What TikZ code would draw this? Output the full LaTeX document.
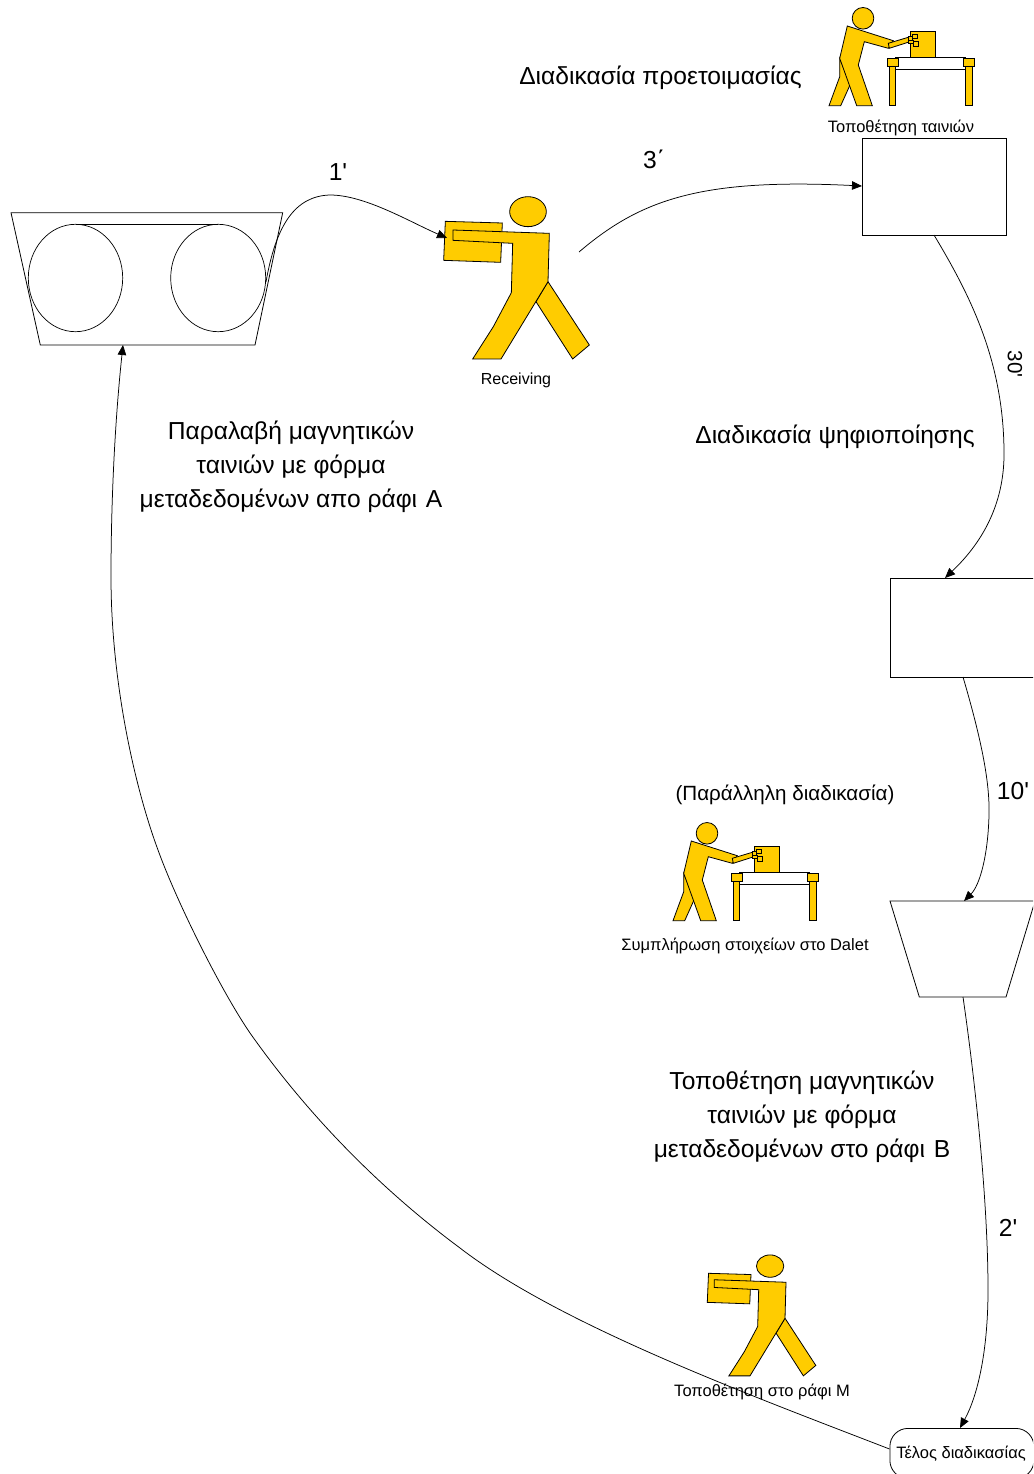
\documentclass[tikz,border=0pt]{standalone}
\usepackage{fontspec}
\newfontfamily\lf{Liberation Sans}
\usetikzlibrary{arrows.meta}
\definecolor{fig}{HTML}{FFCC00}
\tikzset{
  ln/.style={draw=black,line width=0.8pt},
  part/.style={draw=black,line width=0.8pt,fill=fig},
  flow/.style={draw=black,line width=0.75pt,-{Triangle[length=10pt,width=8.5pt]}},
  bigtxt/.style={font=\lf\fontsize{24.6}{34}\selectfont,inner sep=0pt,align=center},
  smalltxt/.style={font=\lf\fontsize{16.5}{18}\selectfont,inner sep=0pt},
  midtxt/.style={font=\lf\fontsize{20.6}{24}\selectfont,inner sep=0pt},
  boxnode/.style={draw=black,line width=0.8pt,fill=white,inner sep=0pt,anchor=north west},
  carrier/.pic={
    \begin{scope}[scale=1/3]
    \path[part] (46,124)--(217,129)--(212,247)--(41,241)--cycle;
    \path[part] (354,305)--(478,495)--(428,537)--(318,365)--cycle;
    \path[part] (69,150)--(358,160)--(354,305)--(213,537)--(128,537)--(190,440)--(244,338)--(248,190)--(69,181)--cycle;
    \path[part] (294,95) ellipse [x radius=55,y radius=45];
    \end{scope}
  },
  worker/.pic={
    \path[part] (863,18.3) circle [radius=10.8];
    \path[part] (839.7,58.3)--(839.7,76.7)--(829,105.7)--(840.7,105.7)--(850.3,84.3)--cycle;
    \path[part] (847.3,26)--(893.3,40.7)--(888.3,48.3)--(864.3,41.7)--(858.3,65)--(872.3,105.7)--(856.7,105.7)--(839.7,58.3)--cycle;
    \path[part] (910.3,31.7) rectangle (935,57.7);
    \path[draw=black,line width=0.8pt,fill=white] (895,57.7) rectangle (965,69.3);
    \path[part] (889,60) rectangle (895.7,105.7);
    \path[part] (965.3,60) rectangle (972.3,105.7);
    \path[part] (887.3,58.3) rectangle (898.3,66.7);
    \path[part] (963.3,58.3) rectangle (974.3,66.7);
    \path[part] (888.3,43.3)--(908.3,37.3)--(910,41.7)--(889.3,48.3)--cycle;
    \path[part,line width=0.6pt] (908,36) rectangle (912,40);
    \path[part,line width=0.6pt] (912,34) rectangle (917,38);
    \path[part,line width=0.6pt] (913,41) rectangle (918,46);
    \path[part,line width=0.6pt] (908,40) rectangle (913,43);
  }
}
\begin{document}
\begin{tikzpicture}[x=1pt,y=-1pt]
\fill[white] (0,0) rectangle (1033,1474);
\clip (0,0) rectangle (1033,1474);
% reel rack
\draw[ln] (11,212.7)--(282.7,212.7)--(255,345)--(40.3,345)--cycle;
\draw[ln,line width=0.7pt] (75.5,278) ellipse [x radius=47.2,y radius=53.7];
\draw[ln,line width=0.7pt] (218.2,278) ellipse [x radius=47.5,y radius=53.7];
\draw[ln,line width=0.7pt] (75.5,224.4)--(218.2,224.4);
\coordinate (rackS) at (123,345);
\coordinate (rackE) at (266,282);
% figures
\pic at (430,180) {carrier};
\pic at (0,0) {worker};
\pic at (-156,815) {worker};
\pic[scale=.745] at (697.1,1242.5) {carrier};
\coordinate (carrierIn) at (447,238);
\coordinate (carrierOut) at (579,252);
% boxes
\node[boxnode,minimum width=144pt,minimum height=97pt] (boxA) at (862,138) {};
\node[boxnode,minimum width=146pt,minimum height=99pt] (boxB) at (890,578) {};
\draw[ln] (890,901)--(1035,901)--(1006,997)--(919.3,997)--cycle;
\coordinate (trapN) at (964,901);
\coordinate (trapS) at (963,997);
\coordinate (boxAs) at (934,235);
\coordinate (boxBn) at (945,578);
\coordinate (boxBs) at (963,677);
\node[draw=black,line width=0.8pt,rounded corners=18pt,minimum width=144pt,minimum height=50pt,inner sep=0pt,anchor=north west] (endN) at (889.5,1428) {};
\coordinate (endNn) at (960,1428);
\coordinate (endNw) at (889.5,1449);
% connectors
\draw[flow] (rackE) .. controls (276,225) and (295,196) .. (330,195) .. controls (365,195) and (410,222) .. (carrierIn);
\draw[flow] (carrierOut) .. controls (640,200) and (700,178) .. (boxA.west |- 0,186);
\draw[flow] (boxAs) .. controls (970,295) and (1003,360) .. (1004,450) .. controls (1005,500) and (985,540) .. (boxBn);
\draw[flow] (boxBs) .. controls (980,735) and (990,780) .. (989,815) .. controls (988,855) and (980,885) .. (trapN);
\draw[flow] (trapS) .. controls (975,1080) and (988,1200) .. (988,1290) .. controls (988,1350) and (978,1395) .. (endNn);
\draw[flow] (endNw) .. controls (750,1395) and (560,1325) .. (460,1248) .. controls (390,1196) and (315,1125) .. (250,1033) .. controls (222,992) and (178,905) .. (158,850) .. controls (134,785) and (111,680) .. (111,577) .. controls (111,500) and (115,420) .. (rackS);
% labels
\node[bigtxt] (t1) at (660.5,78) {Διαδικασία προετοιμασίας};
\node[smalltxt] (t2) at (901,128) {Τοποθέτηση ταινιών};
\node[bigtxt] (t3) at (654,159) {3΄};
\node[bigtxt] (t4) at (338,172) {1'};
\node[smalltxt,font=\lf\fontsize{16}{18}\selectfont] (t5) at (516,380) {Receiving};
\node[midtxt,rotate=-90] (t6) at (1015,364) {30'};
\node[bigtxt] (t7) at (835,437) {Διαδικασία ψηφιοποίησης};
\node[bigtxt] (t8) at (291,466.5) {Παραλαβή μαγνητικών\\ταινιών με φόρμα\\μεταδεδομένων απο ράφι\hspace{0.08em} A};
\node[midtxt] (t9) at (785,795) {(Παράλληλη διαδικασία)};
\node[bigtxt] (t10) at (1013,791) {10'};
\node[smalltxt] (t11) at (745,946) {Συμπλήρωση στοιχείων στο Dalet};
\node[bigtxt] (t12) at (802,1116.5) {Τοποθέτηση μαγνητικών\\ταινιών με φόρμα\\μεταδεδομένων στο ράφι\hspace{0.08em} B};
\node[bigtxt] (t13) at (1008,1228) {2'};
\node[smalltxt] (t14) at (762,1392) {Τοποθέτηση στο ράφι Μ};
\node[smalltxt] (t15) at (961,1454) {Τέλος διαδικασίας};
\end{tikzpicture}
\end{document}
